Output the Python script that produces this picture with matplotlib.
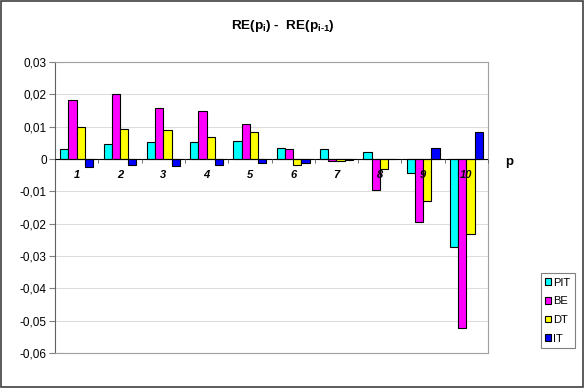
import matplotlib
matplotlib.use('Agg')
import matplotlib.pyplot as plt
import numpy as np
from matplotlib.patches import Rectangle
import matplotlib.transforms as mtransforms

plt.rcParams['font.family'] = 'Liberation Sans'
plt.rcParams['mathtext.fontset'] = 'custom'
plt.rcParams['mathtext.bf'] = 'Liberation Sans:bold'
plt.rcParams['mathtext.rm'] = 'Liberation Sans:bold'

# data
categories = ['1', '2', '3', '4', '5', '6', '7', '8', '9', '10']
pit = [0.0031, 0.0046, 0.0052, 0.0052, 0.0055, 0.0033, 0.0030, 0.0022, -0.0044, -0.0271]
be = [0.0183, 0.0200, 0.0158, 0.0149, 0.0107, 0.0030, -0.0005, -0.0096, -0.0194, -0.0524]
dt = [0.0098, 0.0092, 0.0090, 0.0067, 0.0082, -0.0019, -0.0007, -0.0030, -0.0130, -0.0231]
it = [-0.0026, -0.0020, -0.0023, -0.0020, -0.0012, -0.0012, -0.0003, 0.0001, 0.0034, 0.0084]
series = {'PIT': pit, 'BE': be, 'DT': dt, 'IT': it}
colors = {'PIT': '#00FFFF', 'BE': '#FF00FF', 'DT': '#FFFF00', 'IT': '#0000FF'}
yticks = [0.03, 0.02, 0.01, 0, -0.01, -0.02, -0.03, -0.04, -0.05, -0.06]

fig = plt.figure(figsize=(5.86, 3.89), dpi=100)
ax = fig.add_axes([0.0939, 0.0925, 0.7389, 0.7481])

x = np.arange(len(categories))
w = 0.19
for i, (name, vals) in enumerate(series.items()):
    ax.bar(x + (i - 1.5) * w, vals, w, color=colors[name], edgecolor='black',
           linewidth=0.8, label=name, zorder=3)

ax.set_xlim(-0.5, len(categories) - 0.5)
ax.set_ylim(-0.06, 0.03)
ax.set_yticks(yticks)
ax.set_yticklabels(['0' if v == 0 else ('%.2f' % v).replace('.', ',') for v in yticks])
ax.tick_params(axis='y', labelsize=8.5, length=4, color='#808080', pad=2)
ax.grid(axis='y', color='#DDDDDD', linewidth=0.8, zorder=0)
ax.set_xticks([])
for s in ['top', 'right', 'bottom']:
    ax.spines[s].set_color('#A0A0A0')
ax.spines['left'].set_color('#606060')

# category axis crossing at zero
ax.axhline(0, color='black', linewidth=0.8, zorder=4)
zero_pos = (0 - ax.get_ylim()[0]) / (ax.get_ylim()[1] - ax.get_ylim()[0])
sec = ax.secondary_xaxis(zero_pos)
sec.set_alignment('bottom')
sec.set_zorder(5)
sec.set_xticks(x)
sec.set_xticklabels(categories, fontsize=8, fontweight='bold', fontstyle='italic')
sec.set_xticks(np.arange(len(categories) + 1) - 0.5, minor=True)
sec.tick_params(axis='x', which='major', length=0, pad=8)
sec.tick_params(axis='x', which='minor', length=3, color='#606060')
sec.spines['bottom'].set_visible(False)
sec.spines['top'].set_visible(False)

trans = mtransforms.blended_transform_factory(ax.transAxes, ax.transData)
ax.text(1.04, -0.001, 'p', transform=trans, fontsize=9.5, fontweight='bold',
        ha='left', va='center')

fig.text(0.482, 0.932, r'RE(p$_{\mathbf{i}}$) -  RE(p$_{\mathbf{i}\text{-}\mathbf{1}}$)',
         ha='center', va='center', fontsize=9.7, fontweight='bold')

leg = fig.legend(loc='upper left', bbox_to_anchor=(0.923, 0.298), fontsize=8,
                 handlelength=0.55, handleheight=0.55, handletextpad=0.15,
                 borderpad=0.4, labelspacing=0.78, fancybox=False,
                 edgecolor='#808080', framealpha=1, borderaxespad=0)
leg.get_frame().set_linewidth(0.8)

fig.patches.append(Rectangle((0.002, 0.004), 0.993, 0.993, transform=fig.transFigure,
                             fill=False, edgecolor='#404040', linewidth=1.2))

fig.savefig('out.png', dpi=100)
